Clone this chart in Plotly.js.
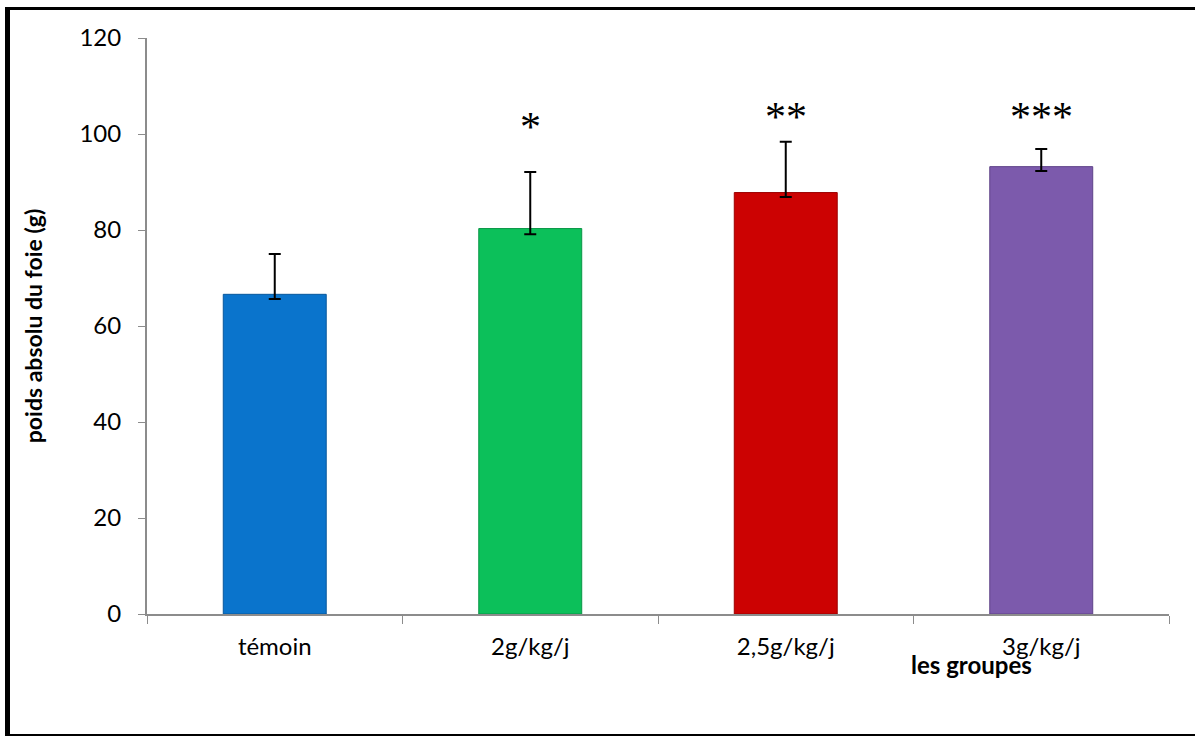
<!DOCTYPE html>
<html>
<head>
<meta charset="utf-8">
<script src="https://cdn.plot.ly/plotly-3.0.1.min.js"></script>
<style>
  html, body { margin: 0; padding: 0; background: #ffffff; overflow: hidden; }
  #chart { width: 1195px; height: 736px; position: absolute; left: 0; top: 0; }
  #frame { position: absolute; left: 5px; top: 7px; width: 1300px; height: 724px;
           border-left: 5px solid #000; border-top: 3px solid #000; border-bottom: 3px solid #000;
           pointer-events: none; z-index: 10; }
</style>
</head>
<body>
<div id="chart"></div>
<div id="frame"></div>
<script>
// Data
const groups = ["témoin", "2g/kg/j", "2,5g/kg/j", "3g/kg/j"];
const values = [66.6, 80.3, 87.8, 93.2];
const errPlus = [8.4, 11.8, 10.6, 3.7];
const errMinus = [1.0, 1.2, 0.9, 0.9];
const significance = ["", "*", "**", "***"];
const sigLevel = [0, 101.5, 103.6, 103.6];
const barColors = ["#0a74cc", "#0cc05a", "#cc0202", "#7c5aac"];
const barEdge = ["#08589c", "#099546", "#9c0101", "#5e4288"];
const yTicks = [0, 20, 40, 60, 80, 100, 120];

const trace = {
  type: "bar",
  x: groups,
  y: values,
  marker: { color: barColors, line: { color: barEdge, width: 1 } },
  error_y: {
    type: "data", symmetric: false, array: errPlus, arrayminus: errMinus,
    visible: true, color: "#000000", thickness: 2, width: 6
  },
  hoverinfo: "x+y"
};

const annotations = [];
groups.forEach((g, i) => {
  if (significance[i]) {
    annotations.push({
      x: g, y: sigLevel[i], xref: "x", yref: "y", text: significance[i],
      showarrow: false, font: { family: "Liberation Serif, serif", size: 42, color: "#000" },
      yanchor: "middle"
    });
  }
});
annotations.push({
  x: 0.807, y: 0, xref: "paper", yref: "paper", yshift: -50, text: "<b>les groupes</b>",
  showarrow: false, font: { family: "Lato, sans-serif", size: 24, color: "#000" },
  xanchor: "center", yanchor: "middle"
});

const layout = {
  width: 1195, height: 736,
  margin: { l: 147, r: 26, t: 38, b: 122 },
  paper_bgcolor: "rgba(0,0,0,0)", plot_bgcolor: "#ffffff",
  showlegend: false,
  bargap: 0.597,
  font: { family: "Lato, sans-serif", color: "#000" },
  xaxis: {
    type: "category", tickson: "boundaries", ticks: "outside", ticklen: 8, tickcolor: "#8c8c8c",
    showline: true, linecolor: "#8c8c8c", linewidth: 2, showgrid: false, zeroline: false,
    tickfont: { family: "Lato, sans-serif", size: 24, color: "#000" }, ticklabelstandoff: 10
  },
  yaxis: {
    range: [0, 120], tickvals: yTicks, ticks: "outside", ticklen: 7, tickcolor: "#8c8c8c",
    showline: true, linecolor: "#8c8c8c", linewidth: 2, showgrid: false, zeroline: false,
    tickfont: { family: "Lato, sans-serif", size: 24, color: "#000" }, ticklabelstandoff: 12,
    title: { text: "<b>poids absolu du foie (g)</b>", font: { family: "Lato, sans-serif", size: 23, color: "#000" }, standoff: 30 }
  },
  annotations: annotations
};

Plotly.newPlot("chart", [trace], layout, { displayModeBar: false, staticPlot: true });
</script>
</body>
</html>
